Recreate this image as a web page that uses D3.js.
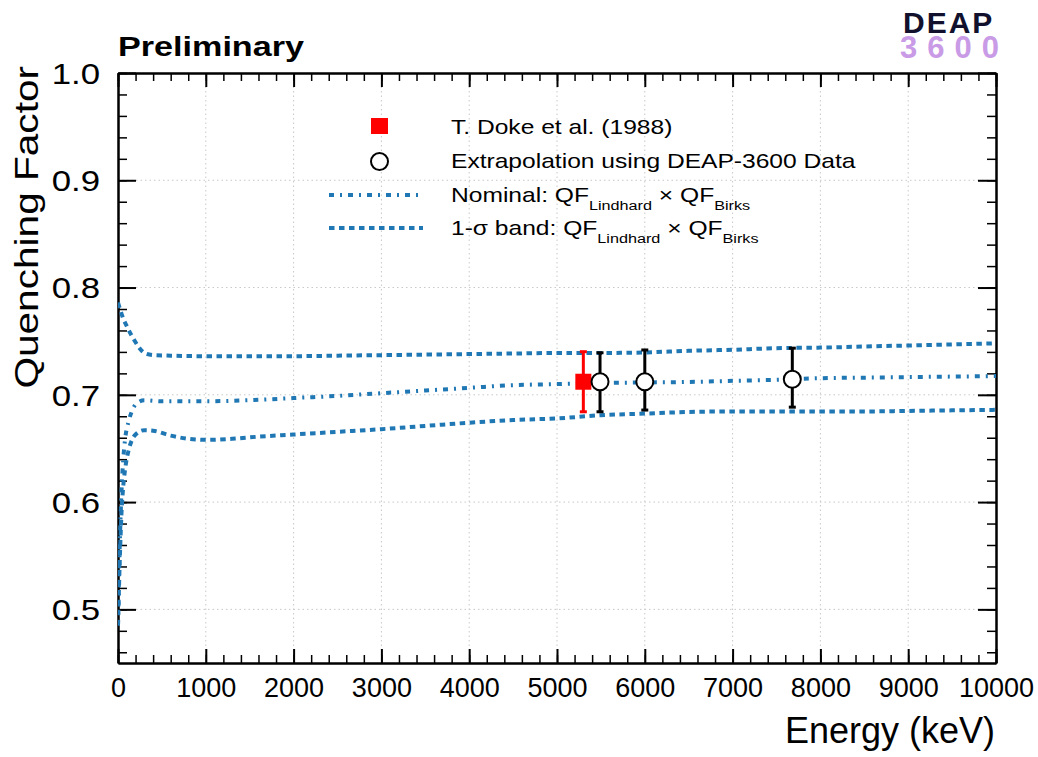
<!DOCTYPE html>
<html>
<head>
<meta charset="utf-8">
<script src="https://cdn.jsdelivr.net/npm/d3@7"></script>
<style>
  html, body { margin: 0; padding: 0; background: #fff; }
  svg { display: block; font-family: "Liberation Sans", Arial, Helvetica, sans-serif; }
</style>
</head>
<body>
<svg id="chart" width="1038" height="757"></svg>
<script>
// ---------------- data ----------------
const upperE  = [0, 30, 60, 100, 150, 200, 250, 300, 400, 600, 1000, 1500, 2000, 2500, 3000, 3500, 4000, 4500, 5000, 5500, 6000, 6500, 7000, 7500, 8000, 8500, 9000, 9500, 10000];
const upperQF = [0.786, 0.778, 0.771, 0.764, 0.756, 0.749, 0.743, 0.739, 0.737, 0.7365, 0.736, 0.736, 0.736, 0.7365, 0.737, 0.7375, 0.738, 0.7385, 0.739, 0.739, 0.7395, 0.741, 0.742, 0.7435, 0.744, 0.745, 0.746, 0.747, 0.748];

const nominalE  = [0, 20, 40, 60, 80, 120, 160, 200, 300, 500, 1000, 1500, 2000, 2500, 3000, 3500, 4000, 4500, 5000, 5500, 6000, 6500, 7000, 7500, 8000, 8500, 9000, 9500, 10000];
const nominalQF = [0.485, 0.56, 0.61, 0.64, 0.658, 0.675, 0.685, 0.691, 0.695, 0.694, 0.694, 0.695, 0.697, 0.699, 0.7015, 0.704, 0.7065, 0.709, 0.710, 0.711, 0.7115, 0.712, 0.713, 0.714, 0.7155, 0.716, 0.7165, 0.717, 0.7175];

const lowerE  = [0, 20, 40, 60, 80, 120, 160, 200, 300, 400, 600, 800, 1000, 1300, 1600, 2000, 2500, 3000, 3500, 4000, 4500, 5000, 5500, 6000, 6500, 7000, 7500, 8000, 8500, 9000, 9500, 10000];
const lowerQF = [0.485, 0.545, 0.59, 0.615, 0.63, 0.648, 0.658, 0.663, 0.667, 0.6665, 0.662, 0.659, 0.658, 0.659, 0.661, 0.663, 0.6655, 0.668, 0.671, 0.674, 0.6765, 0.678, 0.681, 0.6825, 0.684, 0.6845, 0.6845, 0.6845, 0.6845, 0.685, 0.6855, 0.686];

const dokeE      = [5300];
const dokeQF     = [0.7122];
const dokeErrUp  = [0.028];
const dokeErrDn  = [0.028];

const extrapE     = [5490, 6000, 7680];
const extrapQF    = [0.7122, 0.7122, 0.7145];
const extrapErrUp = [0.027, 0.0296, 0.029];
const extrapErrDn = [0.028, 0.0264, 0.026];

const xMajorTicks = [0, 1000, 2000, 3000, 4000, 5000, 6000, 7000, 8000, 9000, 10000];
const yMajorTicks = [0.5, 0.6, 0.7, 0.8, 0.9, 1.0];
const yTickLabels = ["0.5", "0.6", "0.7", "0.8", "0.9", "1.0"];

const legendLabels = ["T. Doke et al. (1988)", "Extrapolation using DEAP-3600 Data", "Nominal: ", "1-\u03c3 band: "];

// ---------------- layout ----------------
const svg = d3.select("#chart");
const L = 118, R = 996, T = 73, B = 663;
const x = d3.scaleLinear().domain([0, 10000]).range([L, R]);
const y = d3.scaleLinear().domain([0.45, 1.0]).range([B, T]);
const blue = "#1f77b4";
const dashBand = "5.5,4.5";
const dashNom = "5,6,2,6";

// grid
const grid = svg.append("g");
grid.selectAll("line.gx").data(xMajorTicks.filter(d => d > 0 && d < 10000)).join("line")
  .attr("x1", d => x(d)).attr("x2", d => x(d)).attr("y1", T).attr("y2", B)
  .attr("stroke", "#c8c8c8").attr("stroke-width", 1).attr("stroke-dasharray", "1.5,3");
grid.selectAll("line.gy").data(yMajorTicks.filter(d => d < 1.0)).join("line")
  .attr("y1", d => y(d)).attr("y2", d => y(d)).attr("x1", L).attr("x2", R)
  .attr("stroke", "#c8c8c8").attr("stroke-width", 1).attr("stroke-dasharray", "1.5,3");

// axes
const xMinor = d3.range(0, 10001, 200);
const yMinor = d3.range(0.46, 1.0001, 0.02);

function styleAxis(g, w) {
  g.select(".domain").attr("stroke", "#000").attr("stroke-width", 2);
  g.selectAll(".tick line").attr("stroke", "#000").attr("stroke-width", w);
}

// bottom
svg.append("g").attr("transform", `translate(0,${B})`)
  .call(d3.axisBottom(x).tickValues(xMinor).tickSize(-8).tickSizeOuter(0).tickFormat(""))
  .call(g => styleAxis(g, 1.5));
const xAx = svg.append("g").attr("transform", `translate(0,${B})`)
  .call(d3.axisBottom(x).tickValues(xMajorTicks).tickSize(-14).tickSizeOuter(0).tickPadding(15).tickFormat(d3.format("d")))
  .call(g => styleAxis(g, 2));
xAx.selectAll("text").attr("font-size", 27).attr("fill", "#000").style("font-family", "'Liberation Sans', Arial, sans-serif");

// top
svg.append("g").attr("transform", `translate(0,${T})`)
  .call(d3.axisTop(x).tickValues(xMinor).tickSize(-8).tickSizeOuter(0).tickFormat(""))
  .call(g => styleAxis(g, 1.5));
svg.append("g").attr("transform", `translate(0,${T})`)
  .call(d3.axisTop(x).tickValues(xMajorTicks).tickSize(-14).tickSizeOuter(0).tickFormat(""))
  .call(g => styleAxis(g, 2));

// left
svg.append("g").attr("transform", `translate(${L},0)`)
  .call(d3.axisLeft(y).tickValues(yMinor).tickSize(-9).tickSizeOuter(0).tickFormat(""))
  .call(g => styleAxis(g, 1.5));
const yAx = svg.append("g").attr("transform", `translate(${L},0)`)
  .call(d3.axisLeft(y).tickValues(yMajorTicks).tickSize(-18).tickSizeOuter(0).tickFormat((d, i) => yTickLabels[i]))
  .call(g => styleAxis(g, 2));
yAx.selectAll("text").attr("font-size", 29).attr("fill", "#000")
  .attr("x", 0).attr("dy", "0.36em")
  .attr("transform", "translate(-18,0) scale(1.2,1)")
  .style("font-family", "'Liberation Sans', Arial, sans-serif");

// right
svg.append("g").attr("transform", `translate(${R},0)`)
  .call(d3.axisRight(y).tickValues(yMinor).tickSize(-9).tickSizeOuter(0).tickFormat(""))
  .call(g => styleAxis(g, 1.5));
svg.append("g").attr("transform", `translate(${R},0)`)
  .call(d3.axisRight(y).tickValues(yMajorTicks).tickSize(-18).tickSizeOuter(0).tickFormat(""))
  .call(g => styleAxis(g, 2));

// clip
svg.append("clipPath").attr("id", "plotclip").append("rect")
  .attr("x", L).attr("y", T).attr("width", R - L).attr("height", B - T);

// curves
const line = d3.line().x(d => x(d[0])).y(d => y(d[1])).curve(d3.curveMonotoneX);
const curves = svg.append("g").attr("clip-path", "url(#plotclip)");
curves.append("path").datum(upperE.map((e, i) => [e, upperQF[i]]))
  .attr("d", line).attr("fill", "none").attr("stroke", blue).attr("stroke-width", 4).attr("stroke-dasharray", dashBand);
curves.append("path").datum(lowerE.map((e, i) => [e, lowerQF[i]]))
  .attr("d", line).attr("fill", "none").attr("stroke", blue).attr("stroke-width", 4).attr("stroke-dasharray", dashBand);
curves.append("path").datum(nominalE.map((e, i) => [e, nominalQF[i]]))
  .attr("d", line).attr("fill", "none").attr("stroke", blue).attr("stroke-width", 4).attr("stroke-dasharray", dashNom);

// error bars + markers
function errorBars(g, E, Q, up, dn, color) {
  const d = E.map((e, i) => ({ e, q: Q[i], hi: Q[i] + up[i], lo: Q[i] - dn[i] }));
  g.selectAll(null).data(d).join("line")
    .attr("x1", p => x(p.e)).attr("x2", p => x(p.e))
    .attr("y1", p => y(p.hi)).attr("y2", p => y(p.lo))
    .attr("stroke", color).attr("stroke-width", 3);
  g.selectAll(null).data(d.flatMap(p => [p.hi, p.lo].map(v => ({ e: p.e, v })))).join("line")
    .attr("x1", p => x(p.e) - 3.5).attr("x2", p => x(p.e) + 3.5)
    .attr("y1", p => y(p.v)).attr("y2", p => y(p.v))
    .attr("stroke", color).attr("stroke-width", 3);
  return d;
}
const pts = svg.append("g");
const dd = errorBars(pts.append("g"), dokeE, dokeQF, dokeErrUp, dokeErrDn, "#ff0000");
pts.append("g").selectAll("rect").data(dd).join("rect")
  .attr("x", p => x(p.e) - 8).attr("y", p => y(p.q) - 8).attr("width", 16).attr("height", 16)
  .attr("fill", "#ff0000");
const de = errorBars(pts.append("g"), extrapE, extrapQF, extrapErrUp, extrapErrDn, "#000");
pts.append("g").selectAll("circle").data(de).join("circle")
  .attr("cx", p => x(p.e)).attr("cy", p => y(p.q)).attr("r", 8.5)
  .attr("fill", "#fff").attr("stroke", "#000").attr("stroke-width", 2);

// legend
const lg = svg.append("g");
lg.append("rect").attr("x", 371).attr("y", 118).attr("width", 17).attr("height", 16).attr("fill", "#ff0000");
lg.append("circle").attr("cx", 379.5).attr("cy", 161.5).attr("r", 8.5).attr("fill", "#fff").attr("stroke", "#000").attr("stroke-width", 2);
lg.append("line").attr("x1", 329).attr("x2", 423).attr("y1", 195).attr("y2", 195)
  .attr("stroke", blue).attr("stroke-width", 4).attr("stroke-dasharray", dashNom);
lg.append("line").attr("x1", 329).attr("x2", 423).attr("y1", 228).attr("y2", 228)
  .attr("stroke", blue).attr("stroke-width", 4).attr("stroke-dasharray", dashBand);

const legBase = [134, 168, 201.7, 235];
function legText(i) {
  const t = lg.append("g").attr("transform", `translate(451,${legBase[i]}) scale(1.2,1)`)
    .append("text").attr("x", 0).attr("y", 0).attr("font-size", 20.5).attr("fill", "#000");
  return t;
}
legText(0).text(legendLabels[0]);
legText(1).text(legendLabels[1]);
[2, 3].forEach(i => {
  const t = legText(i);
  t.append("tspan").text(legendLabels[i] + "QF");
  t.append("tspan").attr("font-size", 13.5).attr("dy", 8).text("Lindhard");
  t.append("tspan").attr("dy", -8).text(" \u00d7 QF");
  t.append("tspan").attr("font-size", 13.5).attr("dy", 8).text("Birks");
});

// titles
svg.append("g").attr("transform", `translate(118,55.5) scale(1.22,1)`)
  .append("text").attr("font-size", 28).attr("font-weight", "bold").attr("fill", "#000").text("Preliminary");

svg.append("text").attr("x", 995).attr("y", 743).attr("text-anchor", "end")
  .attr("font-size", 36).attr("fill", "#000").text("Energy (keV)");

svg.append("g").attr("transform", `translate(38,66) rotate(-90) scale(1.23,1)`)
  .append("text").attr("text-anchor", "end").attr("font-size", 33).attr("fill", "#000").text("Quenching Factor");

// DEAP-3600 logo (one text element, two lines)
const logo = svg.append("text").attr("font-weight", "bold");
logo.append("tspan").attr("x", 903).attr("y", 33).attr("font-size", 30).attr("letter-spacing", 2)
  .attr("fill", "#11112e").text("DEAP");
logo.append("tspan").attr("x", 900).attr("y", 58).attr("font-size", 31).attr("letter-spacing", 10)
  .attr("fill", "#c99be6").text("3600");
</script>
</body>
</html>
